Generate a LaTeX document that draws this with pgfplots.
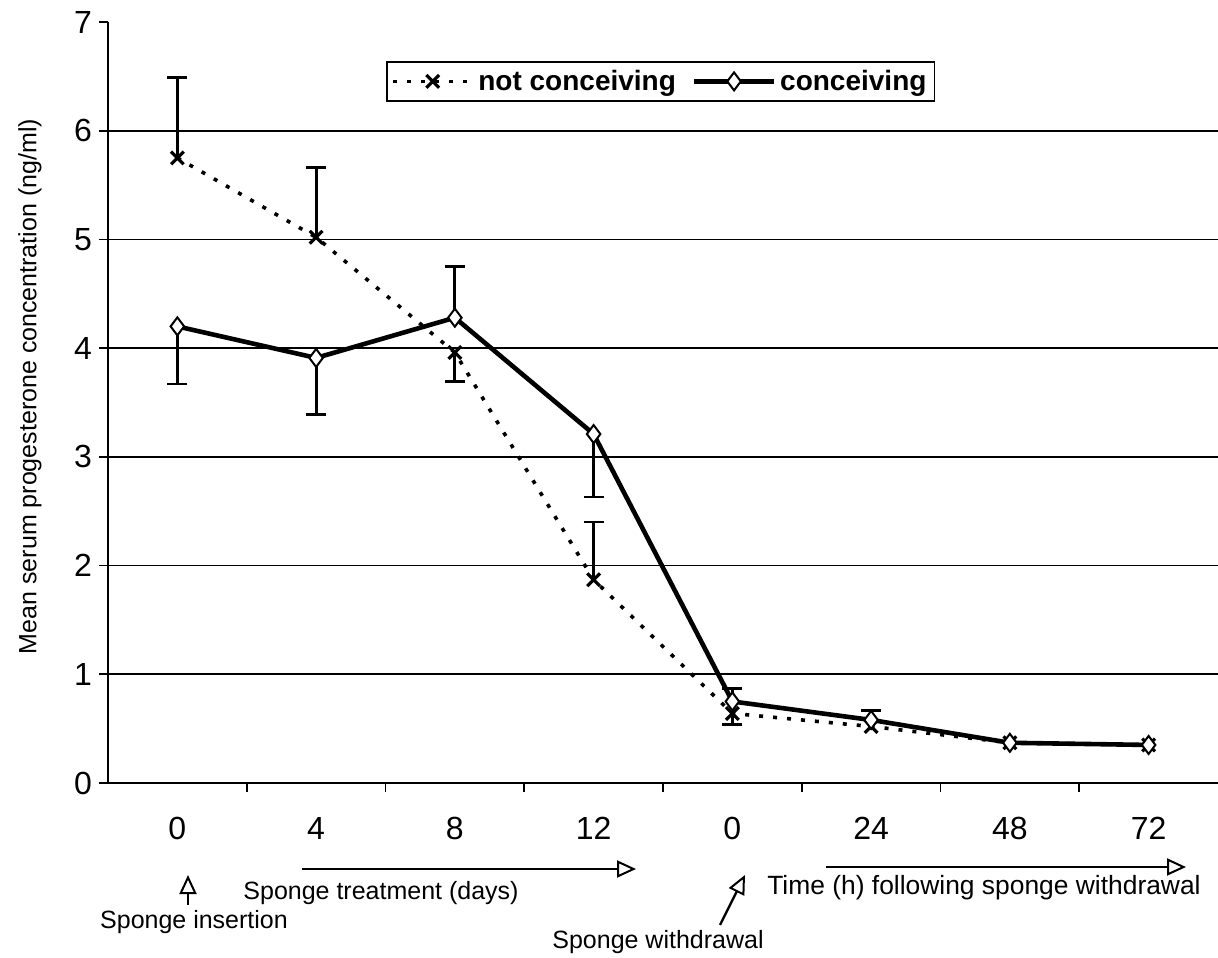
\documentclass[border=0pt]{standalone}
\usepackage{pgfplots}
\pgfplotsset{compat=1.18}
\usepackage{fontspec}
\setmainfont{Liberation Sans}
\usetikzlibrary{arrows.meta}
\begin{document}
\begin{tikzpicture}
\begin{axis}[
  at={(0,0)}, anchor=south west,
  scale only axis, width=555pt, height=380.5pt,
  xmin=-0.5, xmax=7.5, ymin=0, ymax=7,
  axis x line=bottom, axis y line=left,
  axis line style={line width=1pt, -},
  /pgf/number format/assume math mode=true,
  tick align=outside, major tick length=4.5pt,
  tick style={line width=0.8pt, black},
  ytick={0,1,...,7},
  yticklabel style={font=\fontsize{16}{19}\selectfont},
  extra y ticks={1,2,3,4,5,6},
  extra y tick labels={},
  extra y tick style={grid=major, tick align=inside},
  major grid style={line width=0.9pt, black},
  xtick={0.5,1.5,...,6.5},
  xticklabels={},
  extra x ticks={0,1,2,3,4,5,6,7},
  extra x tick labels={0,4,8,12,0,24,48,72},
  extra x tick style={major tick length=0pt, tick label style={font=\fontsize{16}{19}\selectfont, anchor=center, yshift=-22.5pt}},
  ylabel={Mean serum progesterone concentration (ng/ml)},
  ylabel style={at={(axis description cs:-0.0703,0.521)}, anchor=center, font=\fontsize{12.5}{15}\selectfont},
  legend columns=2,
  legend style={at={(0.498,0.922)}, anchor=center, draw=black, line width=0.8pt,
    font=\bfseries\fontsize{14}{17}\selectfont, inner sep=2pt,
    /tikz/every even column/.append style={column sep=6pt}},
  legend image code/.code={\draw[mark repeat=2,mark phase=2] plot coordinates {(0cm,0cm) (0.7cm,0cm) (1.4cm,0cm)};},
  error bars/error bar style={line width=1.4pt, draw=black, solid},
  error bars/error mark options={rotate=90, line width=1.4pt, mark size=5pt, draw=black, solid},
]
% error bars (drawn first)
\addplot[draw=none, forget plot, mark=none, error bars/.cd, y dir=plus, y explicit]
  coordinates {(0,5.75) +- (0,0.74) (1,5.02) +- (0,0.64) (3,1.87) +- (0,0.53)};
\addplot[draw=none, forget plot, mark=none, error bars/.cd, y dir=minus, y explicit]
  coordinates {(2,3.96) +- (0,0.27) (4,0.64) +- (0,0.10)};
\addplot[draw=none, forget plot, mark=none, error bars/.cd, y dir=minus, y explicit]
  coordinates {(0,4.20) +- (0,0.53) (1,3.91) +- (0,0.52) (3,3.21) +- (0,0.58)};
\addplot[draw=none, forget plot, mark=none, error bars/.cd, y dir=plus, y explicit]
  coordinates {(2,4.28) +- (0,0.47) (4,0.75) +- (0,0.12) (5,0.58) +- (0,0.09)};
% not conceiving
\addplot[black, line width=1.8pt, dash pattern=on 2pt off 5pt, mark=x, mark size=4.5pt,
  mark options={solid, line width=1.6pt}]
  coordinates {(0,5.75) (1,5.02) (2,3.96) (3,1.87) (4,0.64) (5,0.52) (6,0.37) (7,0.35)};
\addlegendentry{not conceiving}
% conceiving
\addplot[black, line width=2.3pt, mark=diamond*, mark size=4.5pt,
  mark options={solid, fill=white, line width=1pt}]
  coordinates {(0,4.20) (1,3.91) (2,4.28) (3,3.21) (4,0.75) (5,0.58) (6,0.37) (7,0.35)};
\addlegendentry{conceiving}
\end{axis}
% annotations below the axis
\draw[line width=1.2pt, -{Triangle[open, length=9.5pt, width=8.5pt, line width=1pt]}] (97pt,-43pt) -- (264pt,-43pt);
\draw[line width=1.2pt, -{Triangle[open, length=9.5pt, width=8.5pt, line width=1pt]}] (359pt,-42pt) -- (539pt,-42pt);
\draw[line width=1.2pt, -{Triangle[open, length=9.5pt, width=8.5pt, line width=1pt]}] (40pt,-61pt) -- (40pt,-46pt);
\draw[line width=1.2pt, -{Triangle[open, length=9.5pt, width=8.5pt, line width=1pt]}] (306pt,-71pt) -- (318.5pt,-46pt);
\node[font=\fontsize{12.5}{15}\selectfont, inner sep=0pt] at (136.5pt,-55pt) {Sponge treatment (days)};
\node[font=\fontsize{12.5}{15}\selectfont, inner sep=0pt] at (43pt,-69.5pt) {Sponge insertion};
\node[font=\fontsize{12.5}{15}\selectfont, inner sep=0pt] at (275pt,-79.5pt) {Sponge withdrawal};
\node[font=\fontsize{13.2}{15}\selectfont, inner sep=0pt] at (438pt,-52.5pt) {Time (h) following sponge withdrawal};
\pgfresetboundingbox
\path (-54pt,-87pt) rectangle (555pt,391.5pt);
\end{tikzpicture}
\end{document}
